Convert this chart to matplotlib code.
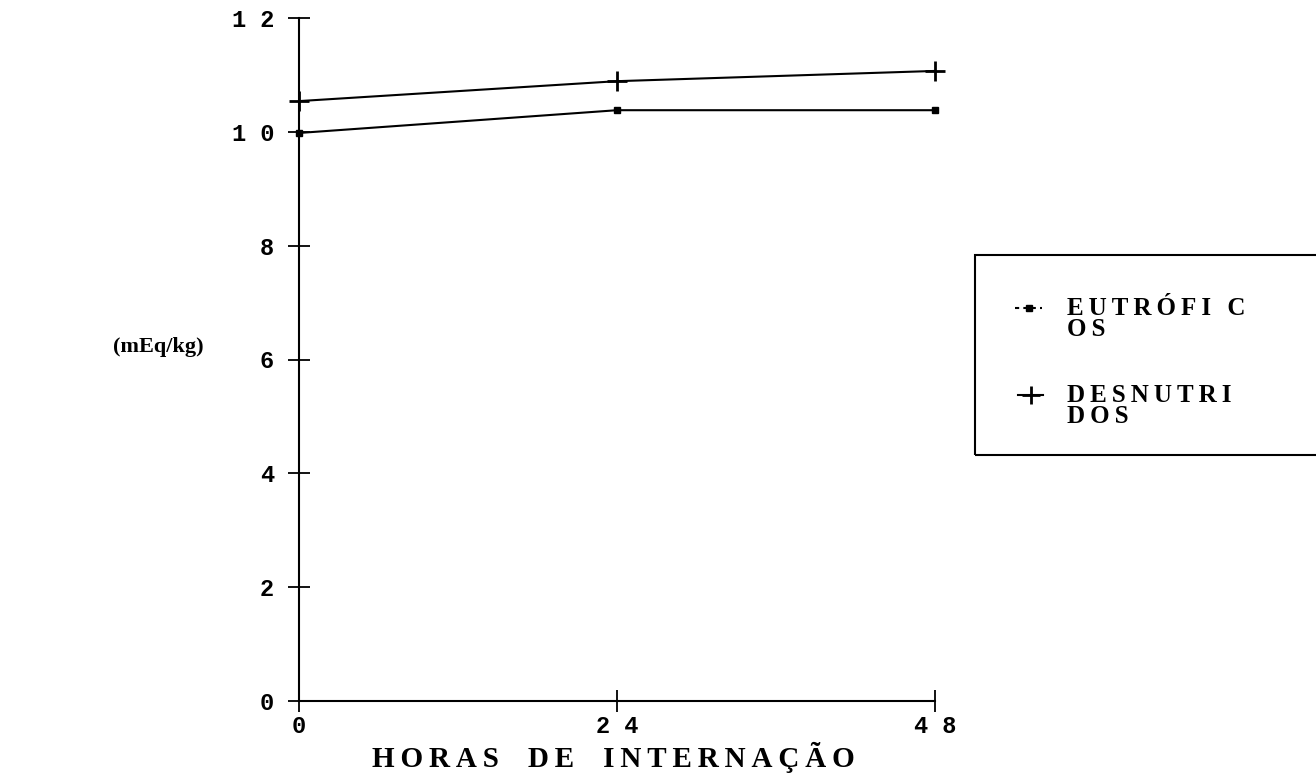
import matplotlib.pyplot as plt
from matplotlib.lines import Line2D
from matplotlib.patches import Rectangle

horas = [0, 24, 48]
eutroficos = [9.98, 10.38, 10.38]
desnutridos = [10.54, 10.89, 11.07]
y_ticks = [0, 2, 4, 6, 8, 10, 12]
y_tick_labels = ["0", "2", "4", "6", "8", "1 0", "1 2"]
x_ticks = [0, 24, 48]
x_tick_labels = ["0", "2 4", "4 8"]
serie_labels = [("EUTRÓFI C", "OS"), ("DESNUTRI", "DOS")]

SERIF = ['Liberation Serif', 'DejaVu Serif']
plt.rcParams['font.family'] = ['Liberation Mono', 'DejaVu Sans Mono']
plt.rcParams['font.weight'] = 'bold'


def spaced(s):
    # old printer look: thin gap between letters
    return "\u2009".join(s)


W, H = 1316, 778
fig = plt.figure(figsize=(W / 100, H / 100), dpi=100)
ax = fig.add_axes([299 / W, 1 - 701 / H, 636 / W, 683 / H])

ax.plot(horas, eutroficos, color="black", linewidth=1.5,
        marker="s", markersize=5)
ax.plot(horas, desnutridos, color="black", linewidth=1.5,
        marker="+", markersize=15, markeredgewidth=2)

ax.set_xlim(0, 48)
ax.set_ylim(0, 12)
ax.set_xticks(x_ticks)
ax.set_xticklabels(x_tick_labels)
ax.set_yticks(y_ticks)
ax.set_yticklabels(y_tick_labels)
ax.tick_params(direction="inout", length=16, width=1.3, labelsize=17)
ax.tick_params(axis="y", pad=10)
ax.tick_params(axis="x", pad=2)
ax.spines["top"].set_visible(False)
ax.spines["right"].set_visible(False)
ax.spines["left"].set_linewidth(1.5)
ax.spines["bottom"].set_linewidth(1.5)
for line in ax.lines:
    line.set_clip_on(False)

fig.text(613 / W, 1 - 757 / H,
         "    ".join(spaced(w) for w in ["HORAS", "DE", "INTERNAÇÃO"]),
         fontsize=21, ha="center", va="center", family=SERIF)
fig.text(158 / W, 1 - 347 / H, "(mEq/kg)", fontsize=16,
         ha="center", va="center", family=SERIF)

# legend, boxed like the original
fig.add_artist(Rectangle((975 / W, 1 - 455 / H), 360 / W, 200 / H,
                         transform=fig.transFigure, fill=False,
                         edgecolor="black", linewidth=1.5, clip_on=False))
fig.add_artist(Line2D([1015 / W, 1042 / W], [1 - 308 / H, 1 - 308 / H],
                      transform=fig.transFigure, color="black",
                      linewidth=1.5, linestyle=(0, (2, 2))))
fig.add_artist(Line2D([1028.5 / W], [1 - 308 / H], transform=fig.transFigure,
                      color="black", marker="s", markersize=5, linewidth=0))
fig.add_artist(Line2D([1018 / W, 1043 / W], [1 - 395 / H, 1 - 395 / H],
                      transform=fig.transFigure, color="black", linewidth=1.5))
fig.add_artist(Line2D([1030.5 / W], [1 - 395 / H], transform=fig.transFigure,
                      color="black", marker="+", markersize=13,
                      markeredgewidth=2, linewidth=0))
for (l1, l2), yc in zip(serie_labels, [308, 395]):
    fig.text(1067 / W, 1 - (yc + 11) / H, spaced(l1) + "\n" + spaced(l2),
             fontsize=18, ha="left", va="center", linespacing=0.92,
             family=SERIF)

fig.savefig("out.png", dpi=100)
